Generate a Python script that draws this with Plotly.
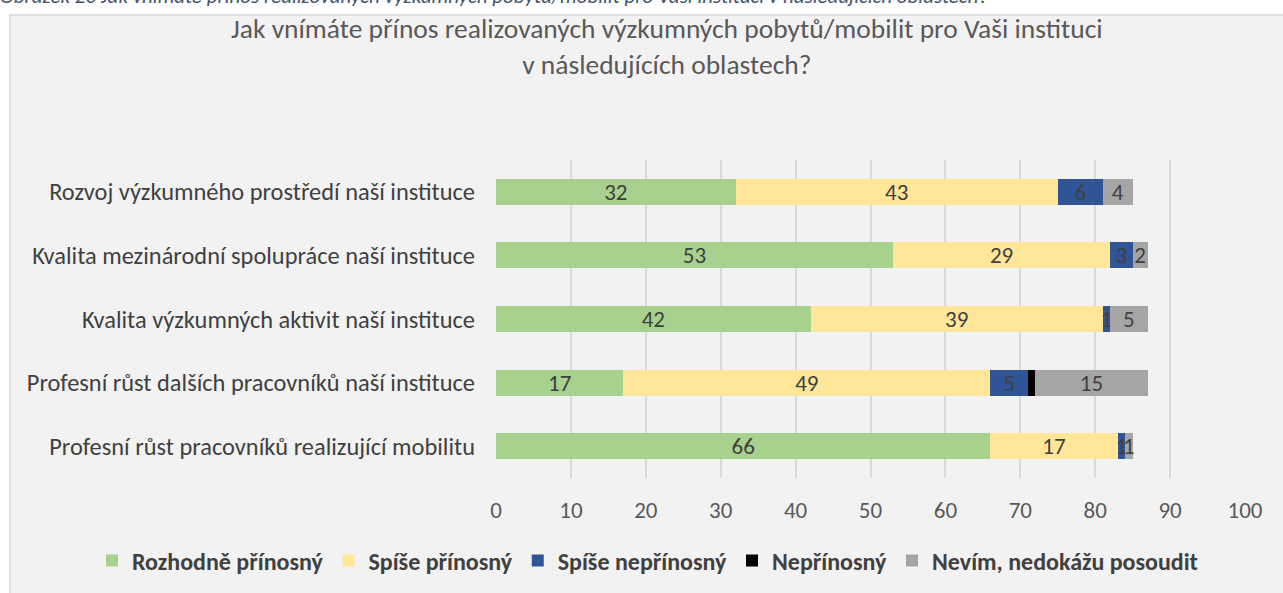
import plotly.graph_objects as go

categories = [
    "Rozvoj výzkumného prostředí naší instituce",
    "Kvalita mezinárodní spolupráce naší instituce",
    "Kvalita výzkumných aktivit naší instituce",
    "Profesní růst dalších pracovníků naší instituce",
    "Profesní růst pracovníků realizující mobilitu",
]
series_names = ["Rozhodně přínosný", "Spíše přínosný", "Spíše nepřínosný", "Nepřínosný", "Nevím, nedokážu posoudit"]
rozhodne = [32, 53, 42, 17, 66]
spise = [43, 29, 39, 49, 17]
spise_ne = [6, 3, 1, 5, 1]
neprinosny = [0, 0, 0, 1, 0]
nevim = [4, 2, 5, 15, 1]
values = [rozhodne, spise, spise_ne, neprinosny, nevim]
colors = ["#A9D18E", "#FFE699", "#2F5597", "#000000", "#A5A5A5"]
x_ticks = [0, 10, 20, 30, 40, 50, 60, 70, 80, 90, 100]

FONT = "Carlito, Calibri, Liberation Sans Narrow, Open Sans, sans-serif"

fig = go.Figure()
for name, vals, col in zip(series_names, values, colors):
    labels = [str(v) if v > 0 and name != "Nepřínosný" else "" for v in vals]
    fig.add_trace(go.Bar(
        y=categories, x=vals, name=name, orientation="h",
        marker=dict(color=col, line=dict(width=0)),
        text=labels, textposition="inside", insidetextanchor="middle", textangle=0,
        textfont=dict(family=FONT, size=23, color="#404040"),
        constraintext="none", cliponaxis=False,
    ))

W, H = 1283, 593
L, R, T, B = 496, 38, 160, 115
pw, ph = W - L - R, H - T - B

def px2x(px):
    return (px - L) / pw

def py2y(py):
    return 1 - (py - T) / ph

fig.add_shape(type="rect", xref="paper", yref="paper",
              x0=px2x(10), x1=px2x(1300), y0=py2y(610), y1=py2y(15),
              line=dict(color="#D9D9D9", width=1.5), fillcolor="#F2F2F2", layer="below")

fig.add_annotation(xref="paper", yref="paper", x=px2x(667), y=py2y(47),
                   text="Jak vnímáte přínos realizovaných výzkumných pobytů/mobilit pro Vaši instituci<br>v následujících oblastech?",
                   showarrow=False, font=dict(family=FONT, size=27.5, color="#595959"),
                   xanchor="center", yanchor="middle", align="center")

fig.add_annotation(xref="paper", yref="paper", x=px2x(-2), y=py2y(-4),
                   text="<i>Obrázek 20 Jak vnímáte přínos realizovaných výzkumných pobytů/mobilit pro Vaši instituci v následujících oblastech?</i>",
                   showarrow=False, font=dict(family=FONT, size=21, color="#44546A"),
                   xanchor="left", yanchor="middle")

fig.update_layout(
    width=W, height=H,
    margin=dict(l=L, r=R, t=T, b=B, autoexpand=False),
    barmode="stack", bargap=0.59,
    paper_bgcolor="white", plot_bgcolor="rgba(0,0,0,0)",
    font=dict(family=FONT, color="#595959"),
    showlegend=True,
    legend=dict(orientation="h", xref="paper", yref="paper",
                x=px2x(92), xanchor="left", y=py2y(561), yanchor="middle",
                font=dict(family=FONT, size=24, color="#404040", weight="bold"),
                itemwidth=30, tracegroupgap=0, traceorder="normal", bgcolor="rgba(0,0,0,0)"),
    xaxis=dict(range=[0, 100], tickvals=x_ticks, showgrid=True, gridcolor="#D9D9D9", gridwidth=2,
               zeroline=False, showline=False, ticks="", automargin=False,
               tickfont=dict(family=FONT, size=23, color="#595959"), ticklabelstandoff=16),
    yaxis=dict(autorange="reversed", showgrid=False, showline=False, ticks="", automargin=False,
               tickfont=dict(family=FONT, size=24.4, color="#404040"), ticklabelstandoff=20),
)

fig.write_html("out.html", config={"displayModeBar": False},
               post_script="document.body.style.margin='0';document.body.style.overflow='hidden';")
